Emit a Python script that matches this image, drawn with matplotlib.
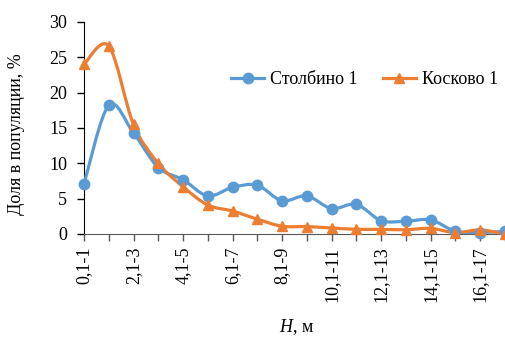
import matplotlib.pyplot as plt
from matplotlib.path import Path
from matplotlib.patches import PathPatch
from matplotlib.lines import Line2D

plt.rcParams['font.family'] = ['Liberation Serif', 'DejaVu Serif']
plt.rcParams['font.size'] = 13
plt.rcParams['mathtext.fontset'] = 'custom'
plt.rcParams['mathtext.it'] = 'Liberation Serif:italic'
plt.rcParams['mathtext.rm'] = 'Liberation Serif'

categories = ['0,1-1', '1,1-2', '2,1-3', '3,1-4', '4,1-5', '5,1-6', '6,1-7', '7,1-8', '8,1-9',
              '9,1-10', '10,1-11', '11,1-12', '12,1-13', '13,1-14', '14,1-15', '15,1-16',
              '16,1-17', '17,1-18']
stolbino = [7.1, 18.2, 14.3, 9.4, 7.7, 5.4, 6.6, 6.9, 4.7, 5.4, 3.6, 4.2, 1.9, 1.8, 2.0, 0.4, 0.2, 0.4]
koskovo = [24.0, 26.6, 15.5, 10.0, 6.7, 4.1, 3.25, 2.1, 1.1, 1.05, 0.85, 0.66, 0.66, 0.6, 0.8, 0.2, 0.57, 0.0]

blue = '#5B9BD5'
orange = '#ED7D31'


def smooth_path(xs, ys):
    # Excel-like smoothed line: cubic Bezier through the points
    pts = list(zip(xs, ys))
    n = len(pts)
    verts = [pts[0]]
    codes = [Path.MOVETO]
    for i in range(n - 1):
        p0 = pts[i - 1] if i > 0 else pts[i]
        p1 = pts[i]
        p2 = pts[i + 1]
        p3 = pts[i + 2] if i + 2 < n else pts[i + 1]
        c1 = (p1[0] + (p2[0] - p0[0]) / 6, p1[1] + (p2[1] - p0[1]) / 6)
        c2 = (p2[0] - (p3[0] - p1[0]) / 6, p2[1] - (p3[1] - p1[1]) / 6)
        verts += [c1, c2, p2]
        codes += [Path.CURVE4] * 3
    return Path(verts, codes)


fig = plt.figure(figsize=(5.06, 3.38), dpi=100)
ax = fig.add_axes([84 / 506, 1 - 234 / 338, (506 - 84) / 506, (234 - 22) / 338])

x = list(range(len(categories)))
for vals, col, mk in [(stolbino, blue, 'o'), (koskovo, orange, '^')]:
    ax.add_patch(PathPatch(smooth_path(x, vals), facecolor='none', edgecolor=col,
                           lw=2.3, capstyle='round', joinstyle='round', zorder=3,
                           clip_on=False))
    ax.plot(x, vals, linestyle='none', marker=mk, color=col, markersize=7.5, zorder=4,
            clip_on=False)

ax.set_xlim(0, 17.05)
ax.set_ylim(0, 30)
ax.set_yticks([0, 5, 10, 15, 20, 25, 30])
ax.set_xticks(x)
ax.set_xticklabels([c if i % 2 == 0 else '' for i, c in enumerate(categories)], rotation=90)

for s in ['top', 'right']:
    ax.spines[s].set_visible(False)
ax.spines['left'].set_color('black')
ax.spines['bottom'].set_color('#595959')
ax.tick_params(axis='y', direction='out', length=5, width=1.0, pad=7)
ax.tick_params(axis='x', direction='out', length=5, width=1.0, color='#595959', pad=4)

fig.text(17 / 506, 1 - 134 / 338, 'Доля в популяции, %', rotation=90, ha='center', va='center')
fig.text(297 / 506, 1 - 327 / 338, r'$H$, м', ha='center', va='center')

handles = [Line2D([], [], color=blue, lw=2.3, marker='o', markersize=7.5),
           Line2D([], [], color=orange, lw=2.3, marker='^', markersize=7.5)]
fig.legend(handles, ['Столбино 1', 'Косково 1'], ncol=2, frameon=False,
           loc='center left', bbox_to_anchor=(231 / 506, 1 - 80 / 338),
           handlelength=1.85, handletextpad=0.3, columnspacing=1.4, borderpad=0,
           borderaxespad=0)

fig.savefig('out.png', dpi=100)
